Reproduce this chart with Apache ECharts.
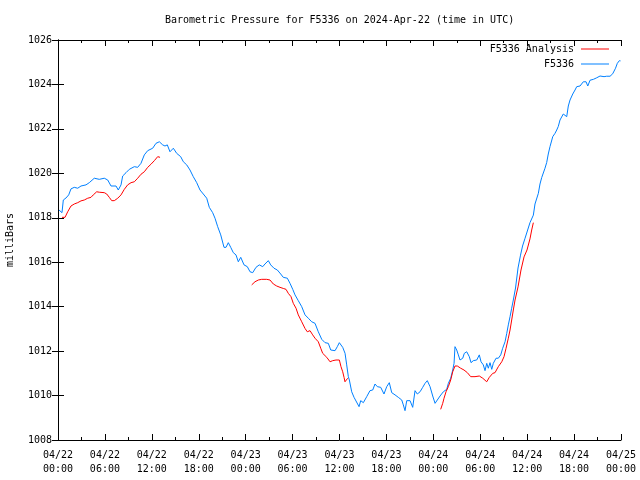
<!DOCTYPE html>
<html>
<head>
<meta charset="utf-8">
<script src="https://cdn.jsdelivr.net/npm/echarts@6/dist/echarts.min.js"></script>
<style>html,body{margin:0;padding:0;background:#fff}#c{width:640px;height:480px}</style>
</head>
<body>
<div id="c"></div>
<script>
var titleText = 'Barometric Pressure for F5336 on 2024-Apr-22 (time in UTC)';
var yAxisName = 'milliBars';
var xTickLabels = ['04/22\n00:00','04/22\n06:00','04/22\n12:00','04/22\n18:00','04/23\n00:00','04/23\n06:00','04/23\n12:00','04/23\n18:00','04/24\n00:00','04/24\n06:00','04/24\n12:00','04/24\n18:00','04/25\n00:00'];
var blueName = 'F5336';
var redName = 'F5336 Analysis';

// hours since 2024-04-22 00:00 UTC
var blueHours = [0.13,0.35,0.51,0.68,1.02,1.37,1.66,2.08,2.52,2.94,3.58,4.0,4.64,5.28,5.92,6.36,6.78,7.42,7.71,8.06,8.27,8.7,9.12,9.76,10.19,10.61,11.04,11.47,12.11,12.53,12.96,13.39,13.68,13.98,14.32,14.75,15.18,15.69,16.03,16.46,16.88,17.30,17.74,18.16,18.58,19.02,19.35,19.78,20.08,20.42,20.81,21.23,21.49,21.78,22.09,22.42,22.76,23.06,23.37,23.79,24.21,24.56,24.90,25.32,25.74,26.18,26.47,26.90,27.20,27.62,28.05,28.48,28.81,29.33,29.67,30.02,30.31,30.73,31.17,31.59,32.01,32.45,32.87,33.29,33.73,34.15,34.57,34.88,35.43,35.72,35.98,36.41,36.71,36.92,37.13,37.26,37.56,37.86,38.11,38.50,38.71,39.05,39.48,39.90,40.25,40.54,40.84,41.27,41.69,42.04,42.37,42.68,43.10,43.52,43.96,44.16,44.38,44.60,45.02,45.36,45.66,45.95,46.30,46.64,46.94,47.23,47.58,47.92,48.22,48.51,48.86,49.28,49.71,49.92,50.22,50.48,50.65,50.77,50.99,51.20,51.41,51.76,51.96,52.27,52.60,52.82,53.11,53.55,53.88,54.10,54.39,54.61,54.83,55.03,55.25,55.47,55.67,56.02,56.31,56.62,56.87,57.17,57.39,57.59,57.81,58.02,58.23,58.51,58.83,59.15,59.41,59.73,60.36,60.79,61.0,61.43,61.64,61.86,62.28,62.50,62.70,62.92,63.27,63.56,63.78,63.98,64.20,64.62,64.84,65.06,65.26,65.48,65.83,66.12,66.34,66.76,67.18,67.53,67.75,68.04,68.47,68.90,69.32,69.54,69.83,70.17,70.60,70.94,71.30,71.53,71.79,71.94];
var bluePressure = [1018.35,1018.44,1018.23,1018.80,1018.89,1019.03,1019.30,1019.37,1019.33,1019.43,1019.48,1019.58,1019.78,1019.73,1019.78,1019.70,1019.43,1019.43,1019.25,1019.48,1019.88,1020.03,1020.18,1020.30,1020.27,1020.45,1020.83,1021.02,1021.13,1021.35,1021.42,1021.28,1021.23,1021.28,1020.97,1021.13,1020.90,1020.75,1020.52,1020.38,1020.15,1019.85,1019.58,1019.25,1019.07,1018.88,1018.47,1018.23,1017.98,1017.60,1017.23,1016.67,1016.67,1016.88,1016.67,1016.43,1016.33,1016.02,1016.22,1015.88,1015.80,1015.57,1015.53,1015.77,1015.88,1015.80,1015.92,1016.07,1015.88,1015.73,1015.65,1015.47,1015.32,1015.28,1015.05,1014.78,1014.53,1014.27,1014.00,1013.63,1013.48,1013.32,1013.25,1012.87,1012.53,1012.38,1012.35,1012.05,1012.02,1012.20,1012.38,1012.17,1011.90,1011.38,1010.85,1010.70,1010.17,1009.92,1009.83,1009.50,1009.77,1009.68,1009.95,1010.22,1010.25,1010.52,1010.40,1010.37,1010.07,1010.40,1010.58,1010.13,1010.03,1009.92,1009.80,1009.58,1009.32,1009.77,1009.77,1009.47,1010.22,1010.07,1010.17,1010.37,1010.55,1010.67,1010.40,1009.98,1009.65,1009.80,1009.98,1010.17,1010.28,1010.55,1010.78,1011.15,1011.45,1012.20,1012.05,1011.83,1011.60,1011.68,1011.90,1011.97,1011.75,1011.48,1011.57,1011.60,1011.83,1011.52,1011.38,1011.12,1011.45,1011.23,1011.48,1011.18,1011.45,1011.68,1011.68,1011.83,1012.13,1012.42,1012.80,1013.18,1013.55,1013.93,1014.30,1014.84,1015.74,1016.32,1016.73,1017.08,1017.78,1018.12,1018.62,1019.10,1019.52,1019.81,1020.23,1020.49,1020.87,1021.20,1021.65,1021.80,1021.95,1022.11,1022.40,1022.67,1022.67,1022.55,1023.03,1023.30,1023.57,1023.75,1023.90,1023.93,1024.12,1024.12,1023.93,1024.19,1024.23,1024.30,1024.38,1024.43,1024.35,1024.37,1024.37,1024.48,1024.73,1024.95,1025.07,1025.06];

var analysisHours1 = [0.51,0.90,1.24,1.66,2.08,2.52,2.94,3.36,3.80,4.22,4.51,4.95,5.28,5.92,6.23,6.56,6.87,7.20,7.64,8.06,8.48,8.91,9.34,9.76,10.19,10.62,11.04,11.47,11.89,12.32,12.75,13.05];
var analysisPressure1 = [1018.02,1018.02,1018.27,1018.53,1018.62,1018.68,1018.76,1018.80,1018.88,1018.92,1019.03,1019.17,1019.15,1019.13,1019.07,1018.92,1018.77,1018.77,1018.88,1019.03,1019.28,1019.48,1019.58,1019.62,1019.78,1019.96,1020.07,1020.27,1020.41,1020.57,1020.75,1020.72];
var analysisHours2 = [24.77,25.19,25.62,26.05,26.69,27.11,27.54,27.97,28.39,28.81,29.16,29.45,29.80,30.09,30.44,30.73,31.17,31.59,31.88,32.23,32.57,32.87,33.29,33.60,33.85,34.02,34.37,34.79,35.13,35.55,35.98,36.19,36.41,36.58,36.70,36.92,37.05];
var analysisPressure2 = [1014.98,1015.12,1015.20,1015.23,1015.23,1015.20,1015.02,1014.93,1014.87,1014.82,1014.78,1014.60,1014.45,1014.15,1013.93,1013.63,1013.32,1013.02,1012.87,1012.92,1012.73,1012.58,1012.42,1012.13,1011.90,1011.82,1011.72,1011.52,1011.57,1011.60,1011.60,1011.30,1011.07,1010.82,1010.62,1010.70,1010.78];
var analysisHours3 = [48.94,49.20,49.37,49.62,49.92,50.22,50.48,50.77,51.07,51.50,51.92,52.35,52.78,53.33,53.88,54.32,54.83,55.16,55.60,55.89,56.31,56.75,57.04,57.30,57.59,57.81,58.02,58.23,58.45,58.83,59.21,59.60,59.98,60.36,60.58,60.79];
var analysisPressure3 = [1009.38,1009.65,1009.88,1010.17,1010.40,1010.70,1011.07,1011.33,1011.33,1011.23,1011.15,1011.03,1010.85,1010.85,1010.88,1010.78,1010.62,1010.82,1011.00,1011.03,1011.30,1011.52,1011.75,1012.13,1012.58,1012.95,1013.40,1013.85,1014.30,1014.89,1015.65,1016.24,1016.55,1017.05,1017.45,1017.78];

function zip(a, b) { return a.map(function (v, i) { return [v, b[i]]; }); }
var blueData = zip(blueHours, bluePressure);
var redData = zip(analysisHours1, analysisPressure1).concat([['-', '-']], zip(analysisHours2, analysisPressure2), [['-', '-']], zip(analysisHours3, analysisPressure3));

var FONT = 'DejaVu Sans Mono';
var chart = echarts.init(document.getElementById('c'), null, {renderer: 'canvas'});
var axisLineStyle = {color: '#000', width: 1};
chart.setOption({
  animation: false,
  backgroundColor: '#fff',
  textStyle: {fontFamily: FONT, fontSize: 10, color: '#000'},
  title: {
    text: titleText, left: 160, top: 10,
    textStyle: {fontFamily: FONT, fontSize: 10, fontWeight: 'normal', color: '#000'}
  },
  legend: {
    data: [redName, blueName],
    orient: 'vertical', right: 31, top: 44, align: 'right', padding: 0,
    itemWidth: 28, itemHeight: 1, itemGap: 5, icon: 'rect',
    textStyle: {fontFamily: FONT, fontSize: 10, color: '#000', padding: [0, 2, 0, 0]},
    itemStyle: {borderWidth: 0}
  },
  grid: {left: 58, right: 19, top: 40, bottom: 40, containLabel: false, outerBoundsMode: 'none'},
  xAxis: [{
    type: 'value', min: 0, max: 72, interval: 6, position: 'bottom',
    axisLine: {show: true, lineStyle: axisLineStyle},
    axisTick: {show: true, inside: true, length: 6, lineStyle: axisLineStyle},
    minorTick: {show: true, splitNumber: 2, length: 3, lineStyle: axisLineStyle},
    splitLine: {show: false},
    axisLabel: {
      fontFamily: FONT, fontSize: 10, color: '#000', lineHeight: 14, margin: 8,
      formatter: function (v) { return xTickLabels[Math.round(v / 6)]; }
    }
  }, {
    type: 'value', min: 0, max: 72, interval: 6, position: 'top',
    axisLine: {show: true, lineStyle: axisLineStyle},
    axisTick: {show: true, inside: true, length: 6, lineStyle: axisLineStyle},
    minorTick: {show: true, splitNumber: 2, length: 3, lineStyle: axisLineStyle},
    splitLine: {show: false}, axisLabel: {show: false}
  }],
  yAxis: [{
    type: 'value', min: 1008, max: 1026, interval: 2, position: 'left',
    name: yAxisName, nameLocation: 'middle', nameGap: 43, nameRotate: 90,
    nameTextStyle: {fontFamily: FONT, fontSize: 10, color: '#000'},
    axisLine: {show: true, lineStyle: axisLineStyle},
    axisTick: {show: true, inside: true, length: 6, lineStyle: axisLineStyle},
    splitLine: {show: false},
    axisLabel: {fontFamily: FONT, fontSize: 10, color: '#000', margin: 6,
      formatter: function (v) { return String(v); }}
  }, {
    type: 'value', min: 1008, max: 1026, interval: 2, position: 'right',
    axisLine: {show: true, lineStyle: axisLineStyle},
    axisTick: {show: true, inside: true, length: 6, lineStyle: axisLineStyle},
    splitLine: {show: false}, axisLabel: {show: false}
  }],
  series: [{
    name: blueName, type: 'line', data: blueData, showSymbol: false, symbol: 'none',
    lineStyle: {color: '#0080ff', width: 1}, itemStyle: {color: '#0080ff'}
  }, {
    name: redName, type: 'line', data: redData, showSymbol: false, symbol: 'none', connectNulls: false,
    lineStyle: {color: '#ff0000', width: 1}, itemStyle: {color: '#ff0000'}
  }]
});
</script>
</body>
</html>
